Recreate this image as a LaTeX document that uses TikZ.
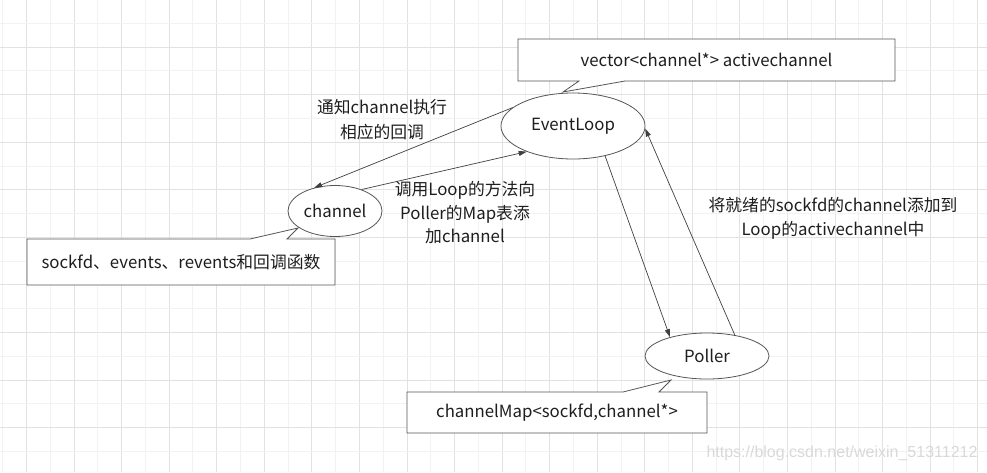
\documentclass[tikz,border=0pt]{standalone}
\usepackage{fontspec}
\setmainfont{Noto Sans CJK SC}
\newfontfamily\wmfont{Liberation Sans}
\usetikzlibrary{shapes.geometric,arrows.meta,calc}
\definecolor{gridA}{HTML}{F2F2F2}
\definecolor{gridB}{HTML}{E2E2E2}
\definecolor{linec}{HTML}{404040}
\definecolor{boxc}{HTML}{555555}
\definecolor{txt}{HTML}{1E1E1E}
\tikzset{
  ell/.style={ellipse,draw=boxc,line width=0.8pt,fill=white,inner sep=0pt,text=txt,font=\fontsize{16.8}{20}\selectfont},
  infobox/.style={rectangle,draw=none,inner sep=0pt,text=txt,font=\fontsize{16.8}{20}\selectfont},
  outline/.style={draw=boxc,line width=0.8pt,fill=white},
  conn/.style={draw=linec,line width=0.7pt,-{Triangle[length=8pt,width=5pt]}},
  lbl/.style={text=txt,align=center,font=\fontsize{16.8}{24.5}\selectfont,inner sep=0pt}
}
\begin{document}
\begin{tikzpicture}[x=1pt,y=-1pt]
\useasboundingbox (0,0) rectangle (987,472);
\fill[white] (0,0) rectangle (987,472);
% grid
\foreach \i in {0,...,41}{
  \pgfmathsetmacro{\gx}{2.7+\i*23.78}
  \pgfmathtruncatemacro{\odd}{mod(\i,2)}
  \ifnum\odd=1 \draw[gridB,line width=0.9pt] (\gx,0) -- (\gx,472);
  \else \draw[gridA,line width=0.9pt] (\gx,0) -- (\gx,472); \fi
}
\foreach \j in {0,...,19}{
  \pgfmathsetmacro{\gy}{23.3+\j*23.78}
  \pgfmathtruncatemacro{\odd}{mod(\j,2)}
  \ifnum\odd=1 \draw[gridB,line width=0.9pt] (0,\gy) -- (987,\gy);
  \else \draw[gridA,line width=0.9pt] (0,\gy) -- (987,\gy); \fi
}
% ellipses
\node[ell,minimum width=144,minimum height=66] (loop) at (573,126) {EventLoop};
\node[ell,minimum width=94,minimum height=51] (chan) at (335,211) {channel};
\node[ell,minimum width=124,minimum height=46] (poll) at (707,356) {Poller};
% callout box frames
\coordinate (vbox) at (706.5,60);
\coordinate (vtip) at (563,92);
\coordinate (sbox) at (181,262);
\coordinate (stip) at (298,228);
\coordinate (cbox) at (557,412.5);
\coordinate (ctip) at (671,380);
\path[outline] ($(vbox)+(-188.5,-21)$) -- ($(vbox)+(188.5,-21)$) -- ($(vbox)+(188.5,21)$)
  -- ($(vbox)+(-81.5,21)$) -- (vtip) -- ($(vbox)+(-127.5,21)$)
  -- ($(vbox)+(-188.5,21)$) -- cycle;
\path[outline] ($(sbox)+(-154,23)$) -- ($(sbox)+(154,23)$) -- ($(sbox)+(154,-23)$)
  -- ($(sbox)+(106,-23)$) -- (stip) -- ($(sbox)+(69,-23)$)
  -- ($(sbox)+(-154,-23)$) -- cycle;
\path[outline] ($(cbox)+(-150,20.5)$) -- ($(cbox)+(150,20.5)$) -- ($(cbox)+(150,-20.5)$)
  -- ($(cbox)+(102,-20.5)$) -- (ctip) -- ($(cbox)+(66,-20.5)$)
  -- ($(cbox)+(-150,-20.5)$) -- cycle;
\node[infobox] (vtext) at (vbox) {vector<channel*> activechannel};
\node[infobox] (stext) at (sbox) {sockfd、events、revents和回调函数};
\node[infobox] (ctext) at (cbox) {channelMap<sockfd,channel*>};
% connectors
\draw[conn] (loop.163) -- (chan.132);
\draw[conn] (chan.39) -- (loop.209);
\draw[conn] (loop.317) -- (poll.153);
\draw[conn] (poll.37) -- (loop.358);
% labels
\node[lbl] (l1) at (382,119.5) {通知channel执行\\相应的回调};
\node[lbl,font=\fontsize{16.8}{23.5}\selectfont] (l2) at (465,213) {调用Loop的方法向\\Poller的Map表添\\加channel};
\node[lbl,font=\fontsize{16.8}{24}\selectfont] (l3) at (833,218) {将就绪的sockfd的channel添加到\\Loop的activechannel中};
% watermark
\node[text=gray!30,font=\wmfont\fontsize{16}{18}\selectfont,inner sep=0pt] (wm) at (842,453) {https://blog.csdn.net/weixin\_51311212};
\end{tikzpicture}
\end{document}
